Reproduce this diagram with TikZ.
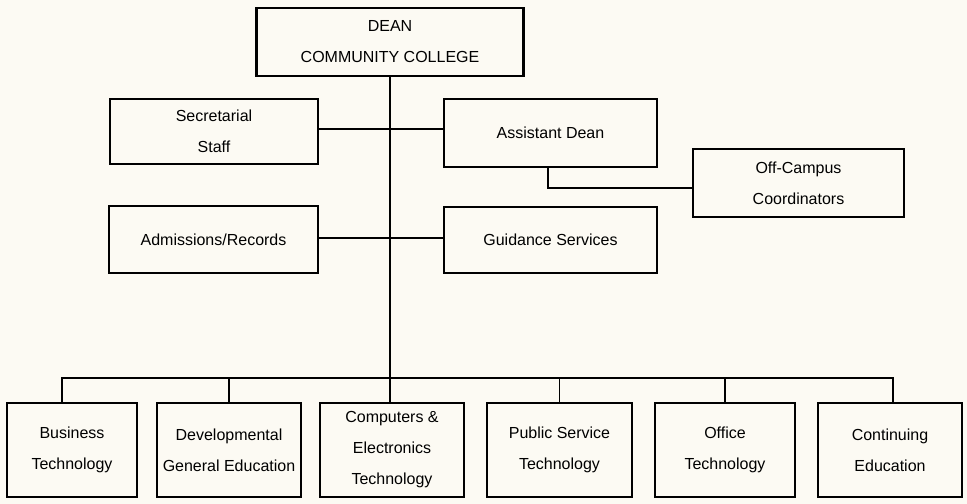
\documentclass[tikz,border=0pt]{standalone}
\usepackage{fontspec}
\setmainfont{Liberation Sans}
\definecolor{paper}{RGB}{252,250,243}
\tikzset{
  unit/.style={draw, line width=1.2pt, align=center, inner sep=2pt,
    font=\fontsize{9.1pt}{17.6pt}\selectfont},
  dept/.style={unit, minimum height=1.88cm},
  link/.style={line width=1.1pt}
}
\begin{document}
\begin{tikzpicture}
\useasboundingbox (0,0) rectangle (19.34,10.08);
\fill[paper] (0,0) rectangle (19.34,10.08);
% top of the chart
\node[unit, minimum width=5.34cm, minimum height=1.36cm] (dean) at (7.80,9.24) {DEAN\\COMMUNITY COLLEGE};
\node[unit, minimum width=4.16cm, minimum height=1.30cm] (staff) at (4.28,7.45) {Secretarial\\Staff};
\node[unit, minimum width=4.26cm, minimum height=1.36cm] (asst) at (11.01,7.42) {Assistant Dean};
\node[unit, minimum width=4.22cm, minimum height=1.36cm] (offcampus) at (15.97,6.42) {Off-Campus\\Coordinators};
\node[unit, minimum width=4.18cm, minimum height=1.34cm] (records) at (4.27,5.29) {Admissions/Records};
\node[unit, minimum width=4.26cm, minimum height=1.32cm] (guidance) at (11.01,5.28) {Guidance Services};
% departments
\node[dept, minimum width=2.60cm] (business) at (1.44,1.08) {Business\\Technology};
\node[dept, minimum width=2.88cm] (develop) at (4.58,1.08) {Developmental\\General Education};
\node[dept, minimum width=2.88cm] (computers) at (7.84,1.08) {Computers \&\\Electronics\\Technology};
\node[dept, minimum width=2.90cm] (public) at (11.19,1.08) {Public Service\\Technology};
\node[dept, minimum width=2.80cm] (office) at (14.50,1.08) {Office\\Technology};
\node[dept, minimum width=2.88cm] (continuing) at (17.80,1.08) {Continuing\\Education};
\coordinate (bus) at (7.80,2.52);
% lines
\draw[link] (dean.south) -- (dean.south |- computers.north);
\draw[link] ([yshift=0.05cm]staff.east) -- ([yshift=0.05cm]staff.east -| asst.west);
\draw[link] ([yshift=0.03cm]records.east) -- ([yshift=0.03cm]records.east -| guidance.west);
\draw[link] ([xshift=-0.05cm]asst.south) |- ([yshift=-0.1cm]offcampus.west);
\draw[link] ([xshift=-0.2cm]business.north) |- (bus) -| ([xshift=0.06cm]continuing.north);
\foreach \n in {develop,public,office}
  \draw[link] (\n.north) -- (\n.north |- bus);
\end{tikzpicture}
\end{document}
